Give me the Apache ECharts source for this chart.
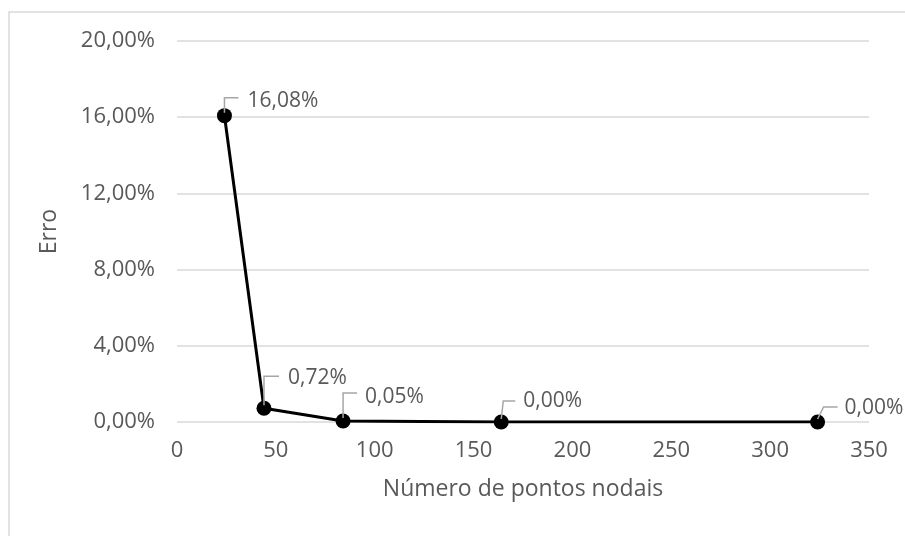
<!DOCTYPE html>
<html>
<head>
<meta charset="utf-8">
<script src="https://cdn.jsdelivr.net/npm/echarts@6/dist/echarts.min.js"></script>
<style>
  html, body { margin: 0; padding: 0; background: #fff; }
  #chart { width: 905px; height: 536px; }
</style>
</head>
<body>
<div id="chart"></div>
<script>
// Number of nodal points and the corresponding error (%)
const nodePoints = [24, 44, 84, 164, 324];
const errorPct = [16.08, 0.72, 0.05, 0.00, 0.00];

// Axis ranges
const xMin = 0, xMax = 350, xStep = 50;
const yMin = 0, yMax = 20, yStep = 4;

// Leader-line geometry for each data label (pixels relative to the point):
// [elbowDx, elbowDy, endDx, textDx, textDy]
const leaderGeom = [
  [0, -18, 14, 23, -15],
  [0, -32, 15, 24, -30],
  [0, -28, 14, 22, -24],
  [2, -21, 14, 22, -21],
  [6, -15, 20, 27, -14]
];

const FONT = '"Open Sans", sans-serif';
const FS = 22;        // tick labels
const FS_DATA = 21;   // data labels
const FS_NAME = 23;   // axis titles
const TEXT = '#595959';

const pct = v => v.toFixed(2).replace('.', ',') + '%';
const points = nodePoints.map((x, i) => [x, errorPct[i]]);

const chart = echarts.init(document.getElementById('chart'), null, { renderer: 'canvas' });

chart.setOption({
  backgroundColor: '#fff',
  animation: false,
  textStyle: { fontFamily: FONT },
  graphic: [{
    type: 'rect',
    shape: { x: 9, y: 12, width: 1000, height: 1000 },
    style: { fill: 'none', stroke: '#d9d9d9', lineWidth: 1.5 },
    silent: true,
    z: -10
  }],
  grid: { left: 177, right: 36, top: 41, bottom: 114, containLabel: false },
  xAxis: {
    type: 'value',
    min: xMin, max: xMax, interval: xStep,
    name: 'Número de pontos nodais',
    nameLocation: 'middle',
    nameGap: 56,
    nameTextStyle: { color: TEXT, fontSize: FS_NAME, fontFamily: FONT },
    axisLine: { show: false },
    axisTick: { show: false },
    splitLine: { show: false },
    axisLabel: { color: TEXT, fontSize: FS, fontFamily: FONT, margin: 18 }
  },
  yAxis: {
    type: 'value',
    min: yMin, max: yMax, interval: yStep,
    name: 'Erro',
    nameLocation: 'middle',
    nameGap: 116,
    nameRotate: 90,
    nameTextStyle: { color: TEXT, fontSize: FS_NAME, fontFamily: FONT },
    axisLine: { show: false },
    axisTick: { show: false },
    splitLine: { show: true, lineStyle: { color: '#d9d9d9', width: 1.5 } },
    axisLabel: { color: TEXT, fontSize: FS, fontFamily: FONT, margin: 22, formatter: pct }
  },
  series: [
    {
      type: 'line',
      data: points,
      symbol: 'circle',
      symbolSize: 15,
      lineStyle: { color: '#000', width: 3 },
      itemStyle: { color: '#000' },
      z: 3
    },
    {
      type: 'custom',
      data: points,
      encode: { x: 0, y: 1 },
      z: 4,
      silent: true,
      renderItem: function (params, api) {
        const i = params.dataIndex;
        const p = api.coord([api.value(0), api.value(1)]);
        const g = leaderGeom[i];
        return {
          type: 'group',
          children: [
            {
              type: 'polyline',
              shape: { points: [[p[0], p[1] - 3], [p[0] + g[0], p[1] + g[1]], [p[0] + g[2], p[1] + g[1]]] },
              style: { stroke: '#a6a6a6', lineWidth: 1.5, fill: 'none' }
            },
            {
              type: 'text',
              x: p[0] + g[3],
              y: p[1] + g[4],
              style: {
                text: pct(api.value(1)),
                fill: TEXT,
                font: FS_DATA + 'px ' + FONT,
                textAlign: 'left',
                textVerticalAlign: 'middle'
              }
            }
          ]
        };
      }
    }
  ]
});
</script>
</body>
</html>
